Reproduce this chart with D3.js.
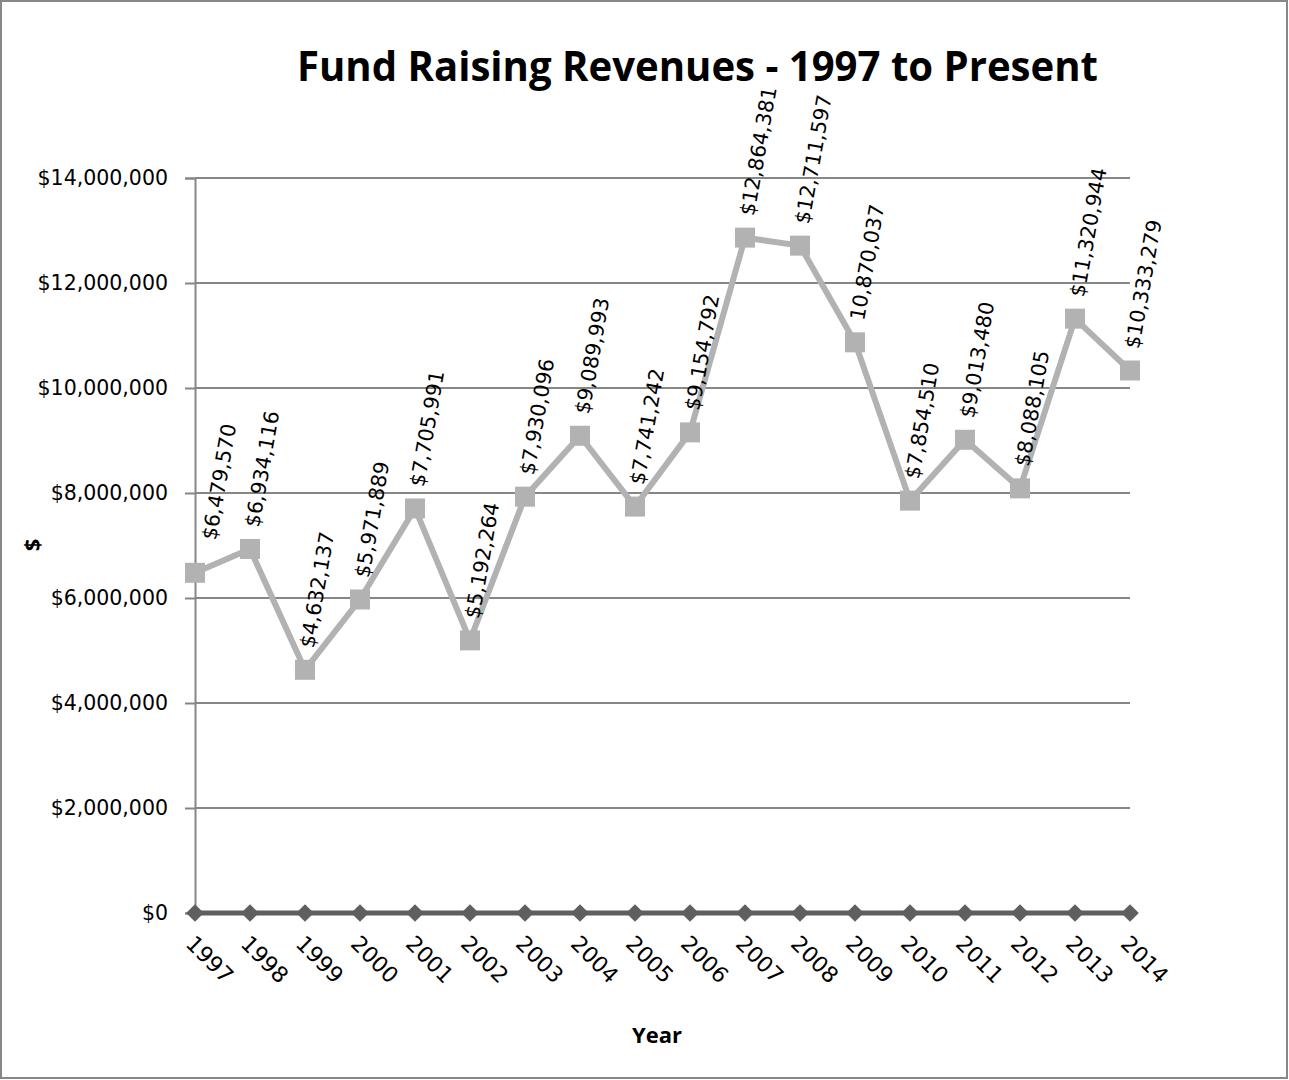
<!DOCTYPE html>
<html>
<head>
<meta charset="utf-8">
<script src="https://cdn.jsdelivr.net/npm/d3@7"></script>
<style>
  html, body { margin: 0; padding: 0; background: #fff; }
  svg { display: block; }
</style>
</head>
<body>
<svg id="chart" width="1289" height="1080"></svg>
<script>
const years = ["1997","1998","1999","2000","2001","2002","2003","2004","2005","2006","2007","2008","2009","2010","2011","2012","2013","2014"];
const revenues = [6479570, 6934116, 4632137, 5971889, 7705991, 5192264, 7930096, 9089993, 7741242, 9154792, 12864381, 12711597, 10870037, 7854510, 9013480, 8088105, 11320944, 10333279];
const dataLabels = ["$6,479,570","$6,934,116","$4,632,137","$5,971,889","$7,705,991","$5,192,264","$7,930,096","$9,089,993","$7,741,242","$9,154,792","$12,864,381","$12,711,597","10,870,037","$7,854,510","$9,013,480","$8,088,105","$11,320,944","$10,333,279"];
const baseline = [0,0,0,0,0,0,0,0,0,0,0,0,0,0,0,0,0,0];
const yTicks = [0, 2000000, 4000000, 6000000, 8000000, 10000000, 12000000, 14000000];
const titleText = "Fund Raising Revenues - 1997 to Present";
const xTitle = "Year";
const yTitle = "$";

(function () {
const svg = d3.select("#chart");
const W = 1289, H = 1080;
const pLeft = 195, pRight = 1130, pTop = 178, pBottom = 913;

// outer border
svg.append("rect").attr("x", 1).attr("y", 1).attr("width", W - 3).attr("height", H - 3)
  .attr("fill", "#fff").attr("stroke", "#878787").attr("stroke-width", 2);

const x = d3.scalePoint().domain(years).range([pLeft, pRight]).padding(0);
const y = d3.scaleLinear().domain([0, 14000000]).range([pBottom, pTop]);

// gridlines
svg.append("g").selectAll("line").data(yTicks).join("line")
  .attr("x1", pLeft).attr("x2", pRight)
  .attr("y1", d => y(d)).attr("y2", d => y(d))
  .attr("stroke", "#868686").attr("stroke-width", 2);

// y axis
const yAxis = d3.axisLeft(y).tickValues(yTicks).tickSize(10).tickPadding(17)
  .tickFormat(d3.format("$,"));
const gy = svg.append("g").attr("transform", `translate(${pLeft},0)`).call(yAxis);
gy.select(".domain").attr("stroke", "#868686").attr("stroke-width", 2);
gy.selectAll(".tick line").attr("stroke", "#868686").attr("stroke-width", 2);
gy.selectAll(".tick text").attr("font-family", "DejaVu Sans").attr("font-size", 20.5).attr("fill", "#000");

// x axis labels
const xAxis = d3.axisBottom(x).tickSize(0).tickPadding(0);
const gx = svg.append("g").attr("transform", `translate(0,${pBottom})`).call(xAxis);
gx.select(".domain").remove();
gx.selectAll(".tick text")
  .attr("font-family", "DejaVu Sans").attr("font-size", 22).attr("fill", "#000")
  .attr("text-anchor", "start").attr("dy", null).attr("y", null)
  .attr("transform", "translate(-11,32) rotate(45)");

// series 1 line
const line = d3.line().x((d, i) => x(years[i])).y(d => y(d));
svg.append("path").datum(revenues).attr("d", line)
  .attr("fill", "none").attr("stroke", "#b2b2b2").attr("stroke-width", 6).attr("stroke-linejoin", "round");
// series 2 line
svg.append("path").datum(baseline).attr("d", line)
  .attr("fill", "none").attr("stroke", "#5f5f5f").attr("stroke-width", 5);

// markers
const sq = 20;
svg.append("g").selectAll("rect").data(revenues).join("rect")
  .attr("x", (d, i) => x(years[i]) - sq / 2).attr("y", d => y(d) - sq / 2)
  .attr("width", sq).attr("height", sq).attr("fill", "#b2b2b2");
const diamond = d3.symbol().type(d3.symbolDiamond2).size(200);
svg.append("g").selectAll("path").data(baseline).join("path")
  .attr("d", diamond)
  .attr("transform", (d, i) => `translate(${x(years[i])},${y(d)})`)
  .attr("fill", "#5f5f5f");

// data labels
svg.append("g").selectAll("text").data(revenues).join("text")
  .attr("font-family", "DejaVu Sans").attr("font-size", 20.5).attr("fill", "#000")
  .attr("text-anchor", "start")
  .attr("transform", (d, i) => {
    let px = x(years[i]) + 9;
    if (i === 0) px += 12;
    const py = y(d) - (i === 0 ? 32 : 21);
    return `translate(${px},${py}) rotate(-80)`;
  })
  .text((d, i) => dataLabels[i]);

// title
svg.append("text").attr("x", 697.5).attr("y", 81).attr("text-anchor", "middle")
  .attr("font-family", "Liberation Sans Narrow, Open Sans, sans-serif").attr("font-weight", "bold")
  .attr("font-size", 42).attr("textLength", 801).attr("lengthAdjust", "spacingAndGlyphs")
  .attr("fill", "#000").text(titleText);

// axis titles
svg.append("text").attr("x", 657).attr("y", 1043).attr("text-anchor", "middle")
  .attr("font-family", "Liberation Sans Narrow, Open Sans, sans-serif").attr("font-weight", "bold")
  .attr("font-size", 22).attr("fill", "#000").text(xTitle);
svg.append("text").attr("transform", "translate(40,545) rotate(-90)").attr("text-anchor", "middle")
  .attr("font-family", "Open Sans, sans-serif").attr("font-weight", "bold")
  .attr("font-size", 22).attr("fill", "#000").text(yTitle);
})();
</script>
</body>
</html>
